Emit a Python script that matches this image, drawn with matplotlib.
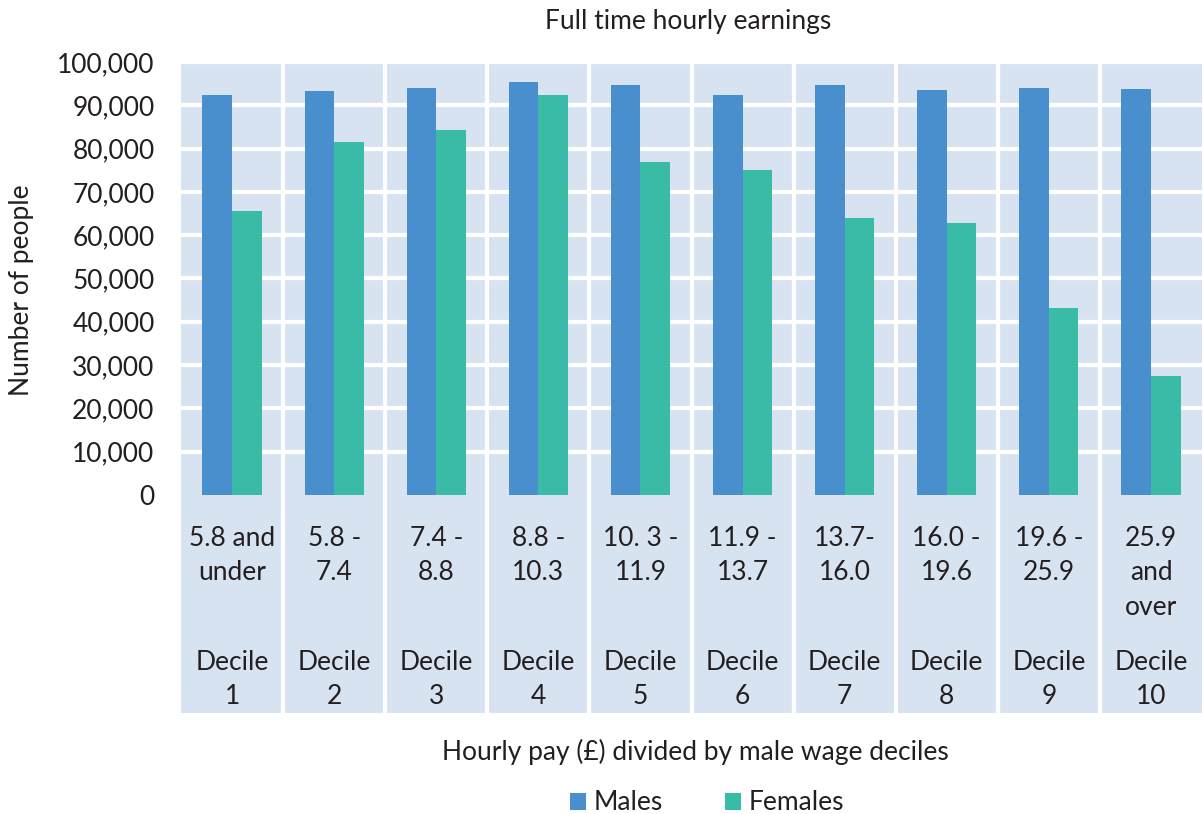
import matplotlib
matplotlib.use("Agg")
import matplotlib.pyplot as plt
import numpy as np
from matplotlib.transforms import blended_transform_factory

plt.rcParams['font.family'] = ['Lato', 'DejaVu Sans']

range_labels = [["5.8 and", "under"], ["5.8 -", "7.4"], ["7.4 -", "8.8"], ["8.8 -", "10.3"],
                ["10. 3 -", "11.9"], ["11.9 -", "13.7"], ["13.7-", "16.0"], ["16.0 -", "19.6"],
                ["19.6 -", "25.9"], ["25.9", "and", "over"]]
decile_labels = [["Decile", str(i)] for i in range(1, 11)]
males = [92300, 93200, 94000, 95300, 94800, 92300, 94800, 93600, 94100, 93700]
females = [65500, 81500, 84200, 92300, 76800, 75000, 64000, 62800, 43200, 27500]
yticks = [0, 10000, 20000, 30000, 40000, 50000, 60000, 70000, 80000, 90000, 100000]

c_m = '#4A8FCD'
c_f = '#3ABBA8'
bg = '#D8E3F2'
txt = '#231F20'

fig = plt.figure(figsize=(12.03, 8.14), dpi=100)
ax = fig.add_axes([181/1203, 1-713/814, 1021/1203, 651/814])
ax.set_facecolor(bg)

n = len(males)
x = np.arange(n)
w = 0.29
ax.bar(x - w/2, males, width=w, color=c_m, zorder=3, label='Males')
ax.bar(x + w/2, females, width=w, color=c_f, zorder=3, label='Females')

ymax = 100000
ymin = -ymax * (713-495) / (495-62)
ax.set_ylim(ymin, ymax)
ax.set_xlim(-0.5, n-0.5)

for yv in yticks[1:]:
    ax.axhline(yv, color='white', lw=3, zorder=1)
for b in np.arange(0.5, n-0.5, 1):
    ax.axvline(b, color='white', lw=3, zorder=1)

ax.set_yticks(yticks)
ax.set_yticklabels([f"{v:,}" for v in yticks], fontsize=19, color=txt)
ax.tick_params(axis='y', length=0, pad=19)
ax.set_xticks([])
for s in ax.spines.values():
    s.set_visible(False)

trans = blended_transform_factory(ax.transData, ax.transAxes)
ax_h = 651.0
line_px = 34.5
for i in range(n):
    base1 = (713 - 546) / ax_h
    for j, s in enumerate(range_labels[i]):
        ax.text(x[i], base1 - j*line_px/ax_h, s, transform=trans, ha='center', va='baseline',
                fontsize=19, color=txt)
    base2 = (713 - 670) / ax_h
    for j, s in enumerate(decile_labels[i]):
        ax.text(x[i], base2 - j*line_px/ax_h, s, transform=trans, ha='center', va='baseline',
                fontsize=19, color=txt)

fig.text(688/1203, 1-22/814, "Full time hourly earnings", ha='center', va='center', fontsize=19, color=txt)
fig.text(22/1203, 1-290/814, "Number of people", ha='center', va='center', rotation=90, fontsize=19, color=txt)
fig.text(695/1203, 1-752/814, "Hourly pay (£) divided by male wage deciles", ha='center', va='center', fontsize=19, color=txt)

leg = fig.legend(loc='center', bbox_to_anchor=(707/1203, 1-803/814), ncol=2, frameon=False,
                 fontsize=19, handlelength=0.6, handleheight=0.6, columnspacing=2.35,
                 handletextpad=0.3, borderpad=0, borderaxespad=0)
for t in leg.get_texts():
    t.set_color(txt)

fig.savefig('out.png', dpi=100)
